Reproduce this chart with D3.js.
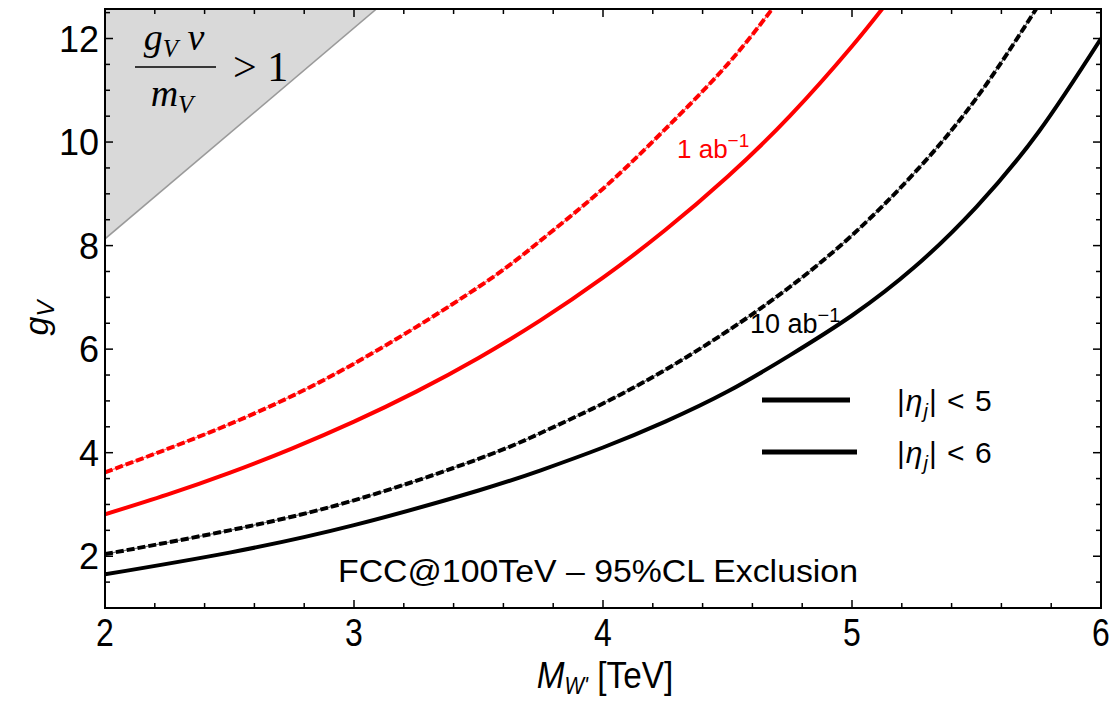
<!DOCTYPE html>
<html><head><meta charset="utf-8">
<script src="https://cdn.jsdelivr.net/npm/d3@7"></script>
<style>body{margin:0;background:#fff}svg{display:block}</style>
</head><body>
<svg id="c" width="1118" height="704"></svg>
<script>
// ---- data ----
const xDomain = [2, 6];
const yDomain = [1, 12.57];
const xTicks = [2, 3, 4, 5, 6];
const yTicks = [2, 4, 6, 8, 10, 12];
// red, |eta_j|<5, 1 ab^-1 (dashed)
const red5 = [[2,3.62],[2.5,4.55],[3,5.72],[3.5,7.2],[3.75,8.1],[4,9.1],[4.25,10.25],[4.5,11.5],[4.7,12.7]];
// red, |eta_j|<6, 1 ab^-1 (solid)
const red6 = [[2,2.81],[2.25,3.19],[2.5,3.61],[2.75,4.08],[3,4.6],[3.25,5.18],[3.5,5.83],[3.75,6.56],[4,7.38],[4.25,8.3],[4.5,9.33],[4.75,10.5],[5,11.85],[5.15,12.75]];
// black, |eta_j|<5, 10 ab^-1 (dashed)
const blk5 = [[2,2.04],[2.5,2.5],[3,3.08],[3.5,3.88],[3.75,4.38],[4,4.95],[4.25,5.6],[4.5,6.35],[4.75,7.2],[5,8.2],[5.25,9.4],[5.5,10.85],[5.75,12.65]];
// black, |eta_j|<6, 10 ab^-1 (solid)
const blk6 = [[2,1.65],[2.5,2.07],[3,2.6],[3.5,3.27],[3.75,3.66],[4,4.1],[4.25,4.6],[4.5,5.18],[4.75,5.88],[5,6.65],[5.25,7.58],[5.5,8.75],[5.75,10.2],[6,12.0]];
// perturbativity boundary g_V v / m_V = 1
const bound = [[2,8.13],[3.09,12.57]];
const legendLabels = ["5", "6"];

const svg = d3.select("#c");
const L = 105, R = 1101, T = 9, B = 608;
const x = d3.scaleLinear().domain(xDomain).range([L, R]);
const y = d3.scaleLinear().domain(yDomain).range([B, T]);

svg.append("defs").append("clipPath").attr("id","clip")
  .append("rect").attr("x",L).attr("y",T).attr("width",R-L).attr("height",B-T);

const g = svg.append("g").attr("clip-path","url(#clip)");
// gray region
const region = [[xDomain[0], bound[0][1]], bound[1], [xDomain[0], yDomain[1]]];
g.append("path").attr("d", "M" + region.map(p => [x(p[0]), y(p[1])].join(",")).join("L") + "Z")
  .attr("fill", "#d9d9d9");
g.append("path").attr("d", d3.line().x(d=>x(d[0])).y(d=>y(d[1]))(bound))
  .attr("stroke","#9a9a9a").attr("stroke-width",1.6).attr("fill","none");

const line = d3.line().x(d=>x(d[0])).y(d=>y(d[1])).curve(d3.curveNatural);
function draw(data, color, dashed){
  if (dashed) g.append("path").attr("d", line(data)).attr("fill","none")
    .attr("stroke", color).attr("stroke-width", 1.3).attr("opacity",0.55);
  g.append("path").attr("d", line(data)).attr("fill","none")
    .attr("stroke", color).attr("stroke-width", 4)
    .attr("stroke-dasharray", dashed ? "8,3" : null);
}
draw(red5, "#ff0000", true);
draw(red6, "#ff0000", false);
draw(blk5, "#000000", true);
draw(blk6, "#000000", false);

// axes frame and ticks
const ax = svg.append("g");
const minorX = d3.range(20, 61, 2).map(v => v/10);
const minorY = d3.range(2, 26).map(v => v/2).filter(v => v <= yDomain[1]);
minorX.forEach(v => {
  const big = xTicks.includes(v), len = big ? 8 : 5;
  ax.append("line").attr("x1",x(v)).attr("x2",x(v)).attr("y1",B).attr("y2",B-len).attr("stroke","#000").attr("stroke-width",1.5);
  ax.append("line").attr("x1",x(v)).attr("x2",x(v)).attr("y1",T).attr("y2",T+len).attr("stroke","#000").attr("stroke-width",1.5);
});
minorY.forEach(v => {
  const big = yTicks.includes(v), len = big ? 8 : 5;
  ax.append("line").attr("y1",y(v)).attr("y2",y(v)).attr("x1",L).attr("x2",L+len).attr("stroke","#000").attr("stroke-width",1.5);
  ax.append("line").attr("y1",y(v)).attr("y2",y(v)).attr("x1",R).attr("x2",R-len).attr("stroke","#000").attr("stroke-width",1.5);
});
ax.append("rect").attr("x",L).attr("y",T).attr("width",R-L).attr("height",B-T)
  .attr("fill","none").attr("stroke","#000").attr("stroke-width",2);

const font = "'Liberation Sans', Arial, Helvetica, sans-serif";
xTicks.forEach(v => {
  ax.append("text").attr("transform", `translate(${x(v)},646) scale(0.82,1)`).attr("text-anchor","middle")
    .attr("font-family",font).attr("font-size",39).text(v);
});
yTicks.forEach(v => {
  ax.append("text").attr("x", 99).attr("y", y(v)+13).attr("text-anchor","end")
    .attr("font-family",font).attr("font-size",36).text(v);
});

// axis titles
const yt = svg.append("text").attr("transform","translate(48,318) rotate(-90)")
  .attr("text-anchor","middle").attr("font-family",font).attr("font-size",34);
yt.append("tspan").attr("font-style","italic").text("g");
yt.append("tspan").attr("font-style","italic").attr("font-size",24).attr("dy",6).text("V");

const xt = svg.append("text").attr("transform","translate(605,688) scale(0.9,1)").attr("text-anchor","middle")
  .attr("font-family",font).attr("font-size",37);
xt.append("tspan").attr("font-style","italic").text("M");
xt.append("tspan").attr("font-style","italic").attr("font-size",23).attr("dy",6).text("W'");
xt.append("tspan").attr("dy",-6).text(" [TeV]");

// annotation in gray region
const serif = "'Liberation Serif', 'DejaVu Serif', serif";
const num = svg.append("text").attr("x",174).attr("y",50).attr("text-anchor","middle")
  .attr("font-family",serif).attr("font-size",38).attr("font-style","italic");
num.append("tspan").text("g");
num.append("tspan").attr("font-size",25).attr("dy",7).text("V");
num.append("tspan").attr("dy",-7).text(" v");
svg.append("line").attr("x1",135).attr("x2",216).attr("y1",67).attr("y2",67).attr("stroke","#000").attr("stroke-width",1.6);
const den = svg.append("text").attr("x",172).attr("y",106).attr("text-anchor","middle")
  .attr("font-family",serif).attr("font-size",38).attr("font-style","italic");
den.append("tspan").text("m");
den.append("tspan").attr("font-size",25).attr("dy",7).text("V");
svg.append("text").attr("x",233).attr("y",81).attr("font-family",serif)
  .attr("font-size",42).text("> 1");

// curve labels
const l1 = svg.append("text").attr("x",677).attr("y",158).attr("font-family",font).attr("font-size",26).attr("fill","#ff0000");
l1.append("tspan").text("1 ab");
l1.append("tspan").attr("font-size",19).attr("dy",-11).text("−1");
const l2 = svg.append("text").attr("x",750).attr("y",333).attr("font-family",font).attr("font-size",27).attr("fill","#000");
l2.append("tspan").text("10 ab");
l2.append("tspan").attr("font-size",20).attr("dy",-11).text("−1");

// legend
const legY = [400, 452];
legendLabels.forEach((lab, i) => {
  svg.append("line").attr("x1",762).attr("x2", i ? 857 : 850).attr("y1",legY[i]).attr("y2",legY[i])
    .attr("stroke","#000").attr("stroke-width",5);
  const t = svg.append("text").attr("x",897).attr("y",legY[i]+11).attr("font-family",font).attr("font-size",30)
    .attr("letter-spacing",1);
  t.append("tspan").text("|");
  t.append("tspan").attr("font-style","italic").text("η");
  t.append("tspan").attr("font-style","italic").attr("font-size",20).attr("dy",7).text("j");
  t.append("tspan").attr("dy",-7).text("| < " + lab);
});

// footer text
svg.append("text").attr("x",598).attr("y",582).attr("text-anchor","middle")
  .attr("font-family",font).attr("font-size",31).attr("textLength",520).attr("lengthAdjust","spacingAndGlyphs")
  .text("FCC@100TeV – 95%CL Exclusion");
</script>
</body></html>
